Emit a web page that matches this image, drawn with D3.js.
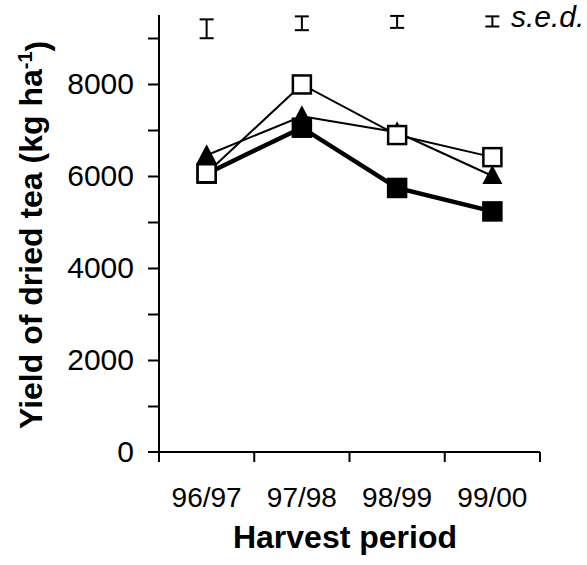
<!DOCTYPE html>
<head>
    <meta charset="UTF-8">
    <title>Yield of dried tea</title>
</head>
<style>
    body {
        margin: 0;
        background: #fff;
        font-family: "Liberation Sans", Arial, sans-serif;
    }
    .axis path, .axis line {
        stroke: #000;
        stroke-width: 2px;
    }
</style>
<body>
<script src="https://cdn.jsdelivr.net/npm/d3@7"></script>
<script>
    // harvest periods on the x axis
    var periods = ["96/97", "97/98", "98/99", "99/00"];
    // three treatments (kg ha-1)
    var filledSquare = [6050, 7050, 5740, 5230];
    var filledTriangle = [6450, 7300, 6950, 6000];
    var openSquare = [6060, 7990, 6890, 6410];
    // s.e.d. bars drawn above each period
    var sedValues = [410, 300, 260, 220];
    var sedCentres = [9200, 9320, 9350, 9360];
    var yTicks = [0, 2000, 4000, 6000, 8000];

    var width = 587, height = 565;
    var margin = {left: 159, top: 15, right: 47, bottom: 113};

    var svg = d3.select("body").append("svg")
        .attr("width", width)
        .attr("height", height);

    var x = d3.scaleBand()
        .domain(periods)
        .range([margin.left, width - margin.right]);

    var y = d3.scaleLinear()
        .domain([0, 9500])
        .range([height - margin.bottom, margin.top]);

    // x axis: ticks between the categories
    var xg = svg.append("g")
        .attr("class", "axis")
        .attr("transform", "translate(0," + y(0) + ")");
    xg.append("line")
        .attr("x1", margin.left - 11)
        .attr("x2", x.range()[1])
        .attr("stroke", "#000");
    xg.selectAll(".xt")
        .data(d3.range(periods.length + 1))
        .enter().append("line")
        .attr("class", "xt")
        .attr("x1", function(i) { return margin.left + i * x.bandwidth(); })
        .attr("x2", function(i) { return margin.left + i * x.bandwidth(); })
        .attr("y1", 0)
        .attr("y2", 10);
    xg.selectAll(".xl")
        .data(periods)
        .enter().append("text")
        .attr("x", function(d) { return x(d) + x.bandwidth() / 2; })
        .attr("y", 55)
        .attr("text-anchor", "middle")
        .style("font-size", "28px")
        .text(function(d) { return d; });

    // y axis
    var yAxis = d3.axisLeft(y)
        .tickValues(d3.range(1000, 9001, 1000))
        .tickSize(11)
        .tickFormat(function(d) { return yTicks.indexOf(d) >= 0 ? d : ""; })
        .tickSizeOuter(0);
    var yg = svg.append("g")
        .attr("class", "axis")
        .attr("transform", "translate(" + margin.left + ",0)")
        .call(yAxis);
    yg.select(".domain").attr("d", "M0," + y(0) + "V" + margin.top);
    yg.selectAll("text")
        .attr("x", -25)
        .style("font-size", "30px")
        .style("font-family", "Liberation Sans, Arial, sans-serif")
        .attr("fill", "#000");
    yg.append("text")
        .attr("x", -25)
        .attr("y", y(0))
        .attr("dy", "0.32em")
        .attr("text-anchor", "end")
        .attr("fill", "#000")
        .style("font-size", "30px")
        .text("0");

    // axis titles
    svg.append("text")
        .attr("x", 345)
        .attr("y", 548)
        .attr("text-anchor", "middle")
        .style("font-size", "32px")
        .style("font-weight", "bold")
        .text("Harvest period");

    var yt = svg.append("text")
        .attr("transform", "translate(42,429) rotate(-90)")
        .attr("text-anchor", "start")
        .style("font-size", "32px")
        .style("font-weight", "bold");
    yt.append("tspan").text("Yield of dried tea (kg ha");
    yt.append("tspan").attr("dy", "-0.5em").style("font-size", "20px").text("-1");
    yt.append("tspan").attr("dy", "0.5em").text(")");

    // series lines and markers
    var cx = function(i) { return x(periods[i]) + x.bandwidth() / 2; };
    var line = d3.line()
        .x(function(d, i) { return cx(i); })
        .y(function(d) { return y(d); });

    var series = [
        {values: filledSquare, width: 4.5, shape: "square", fill: "#000"},
        {values: filledTriangle, width: 2, shape: "triangle", fill: "#000"},
        {values: openSquare, width: 2, shape: "square", fill: "#fff"}
    ];

    series.forEach(function(s) {
        svg.append("path")
            .datum(s.values)
            .attr("d", line)
            .attr("fill", "none")
            .attr("stroke", "#000")
            .attr("stroke-width", s.width);
    });

    series.forEach(function(s) {
        var g = svg.append("g");
        if (s.shape === "square") {
            g.selectAll("rect")
                .data(s.values)
                .enter().append("rect")
                .attr("x", function(d, i) { return cx(i) - 9; })
                .attr("y", function(d) { return y(d) - 9; })
                .attr("width", 18)
                .attr("height", 18)
                .attr("fill", s.fill)
                .attr("stroke", "#000")
                .attr("stroke-width", 2.5);
        } else {
            g.selectAll("path")
                .data(s.values)
                .enter().append("path")
                .attr("d", function(d, i) {
                    var px = cx(i), py = y(d);
                    return "M" + px + "," + (py - 11) + "L" + (px + 10) + "," + (py + 8) +
                        "L" + (px - 10) + "," + (py + 8) + "Z";
                })
                .attr("fill", s.fill);
        }
    });

    // s.e.d. bars
    var sed = svg.append("g").attr("stroke", "#000").attr("stroke-width", 2);
    sedValues.forEach(function(v, i) {
        var top = y(sedCentres[i] + v / 2), bot = y(sedCentres[i] - v / 2), px = cx(i);
        sed.append("line").attr("x1", px).attr("x2", px).attr("y1", top).attr("y2", bot);
        sed.append("line").attr("x1", px - 7).attr("x2", px + 7).attr("y1", top).attr("y2", top);
        sed.append("line").attr("x1", px - 7).attr("x2", px + 7).attr("y1", bot).attr("y2", bot);
    });
    svg.append("text")
        .attr("x", 511)
        .attr("y", 27)
        .style("font-size", "30px")
        .style("font-style", "italic")
        .text("s.e.d.");
</script>
</body>
</html>
